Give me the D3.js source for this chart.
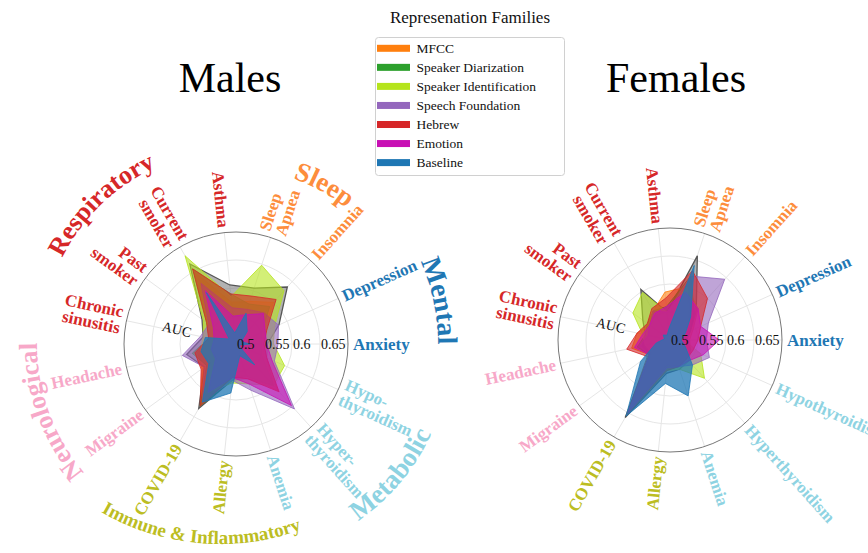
<!DOCTYPE html>
<html>
<head>
<meta charset="utf-8">
<script src="https://cdn.jsdelivr.net/npm/d3@7"></script>
<style>
  body { margin: 0; background: #fff; }
  svg { display: block; font-family: "Liberation Serif", "Times New Roman", serif; }
</style>
</head>
<body>
<svg id="chart" width="868" height="553"></svg>
<script>
// categories, counter-clockwise from east
const categories = ["Anxiety", "Depression", "Insomnia", "Sleep Apnea", "Asthma", "Current smoker",
    "Past smoker", "Chronic sinusitis", "Headache", "Migraine", "COVID-19", "Allergy", "Anemia",
    "Hyperthyroidism", "Hypothyroidism"];
const catGroup = ["Mental", "Mental", "Sleep", "Sleep", "Respiratory", "Respiratory", "Respiratory",
    "Respiratory", "Neurological", "Neurological", "Immune", "Immune", "Metabolic", "Metabolic", "Metabolic"];
const maleLabels = [["Anxiety"], ["Depression"], ["Insomnia"], ["Sleep", "Apnea"], ["Asthma"], ["Current", "smoker"],
    ["Past", "smoker"], ["Chronic", "sinusitis"], ["Headache"], ["Migraine"], ["COVID-19"], ["Allergy"], ["Anemia"],
    ["Hyper-", "thyroidism"], ["Hypo-", "thyroidism"]];
const femaleLabels = [["Anxiety"], ["Depression"], ["Insomnia"], ["Sleep", "Apnea"], ["Asthma"], ["Current", "smoker"],
    ["Past", "smoker"], ["Chronic", "sinusitis"], ["Headache"], ["Migraine"], ["COVID-19"], ["Allergy"], ["Anemia"],
    ["Hyperthyroidism"], ["Hypothyroidism"]];

const groupColors = {
    Mental: "#1f77b4", Sleep: "#fd8d3c", Respiratory: "#d62728",
    Neurological: "#f7a8c8", Immune: "#bcbd22", Metabolic: "#8ed3e2"
};

const families = ["MFCC", "Speaker Diarization", "Speaker Identification", "Speech Foundation", "Hebrew", "Emotion", "Baseline"];
const familyColors = ["#ff7f0e", "#2ca02c", "#b5e41c", "#9467bd", "#d62728", "#c80fb4", "#1f77b4"];

const radialTicks = [0.5, 0.55, 0.6, 0.65];

// AUC per category (same order as categories)
const maleOther = [0.556, 0.584, 0.637, 0.605, 0.606, 0.665, 0.575, 0.56, 0.59, 0.57, 0.633, 0.565, 0.565, 0.6, 0.56];
const maleMFCC = [0.548, 0.555, 0.6, 0.58, 0.575, 0.648, 0.56, 0.548, 0.57, 0.575, 0.625, 0.56, 0.56, 0.612, 0.555];
const maleDiar = [0.545, 0.55, 0.59, 0.575, 0.59, 0.655, 0.565, 0.55, 0.58, 0.565, 0.628, 0.565, 0.56, 0.6, 0.55];
const maleSpkId = [0.567, 0.575, 0.628, 0.648, 0.585, 0.682, 0.572, 0.56, 0.565, 0.555, 0.6, 0.57, 0.575, 0.6, 0.595];
const maleFound = [0.575, 0.583, 0.575, 0.565, 0.565, 0.625, 0.56, 0.565, 0.598, 0.57, 0.62, 0.565, 0.587, 0.656, 0.575];
const maleHebrew = [0.55, 0.56, 0.607, 0.59, 0.59, 0.655, 0.565, 0.55, 0.575, 0.577, 0.628, 0.56, 0.565, 0.615, 0.56];
const maleEmotion = [0.555, 0.557, 0.573, 0.555, 0.55, 0.61, 0.55, 0.54, 0.545, 0.545, 0.6, 0.56, 0.575, 0.648, 0.57];
const maleBase = [0.525, 0.51, 0.53, 0.558, 0.52, 0.606, 0.515, 0.556, 0.564, 0.56, 0.62, 0.588, 0.522, 0.55, 0.505];

const femaleOther = [0.53, 0.54, 0.57, 0.658, 0.55, 0.604, 0.56, 0.545, 0.55, 0.545, 0.66, 0.56, 0.555, 0.55, 0.54];
const femaleMFCC = [0.535, 0.545, 0.575, 0.6, 0.586, 0.56, 0.545, 0.56, 0.57, 0.545, 0.652, 0.55, 0.545, 0.54, 0.54];
const femaleDiar = [0.53, 0.54, 0.565, 0.62, 0.56, 0.56, 0.55, 0.545, 0.56, 0.545, 0.655, 0.555, 0.55, 0.545, 0.54];
const femaleSpkId = [0.525, 0.53, 0.55, 0.6, 0.55, 0.598, 0.582, 0.55, 0.545, 0.54, 0.65, 0.555, 0.555, 0.592, 0.56];
const femaleFound = [0.565, 0.575, 0.646, 0.62, 0.55, 0.56, 0.545, 0.54, 0.555, 0.545, 0.65, 0.545, 0.55, 0.56, 0.577];
const femaleHebrew = [0.55, 0.56, 0.6, 0.63, 0.575, 0.565, 0.55, 0.56, 0.579, 0.55, 0.655, 0.555, 0.55, 0.545, 0.545];
const femaleEmotion = [0.588, 0.56, 0.575, 0.59, 0.56, 0.555, 0.545, 0.55, 0.565, 0.545, 0.65, 0.55, 0.55, 0.55, 0.565];
const femaleBase = [0.52, 0.53, 0.555, 0.64, 0.52, 0.51, 0.515, 0.51, 0.525, 0.565, 0.657, 0.578, 0.605, 0.56, 0.53];

const maleSeries = [maleMFCC, maleDiar, maleSpkId, maleFound, maleHebrew, maleEmotion, maleBase];
const femaleSeries = [femaleMFCC, femaleDiar, femaleSpkId, femaleFound, femaleHebrew, femaleEmotion, femaleBase];

const R = 112;
const svg = d3.select("#chart");
const toRad = d => d * Math.PI / 180;

function drawRadar(cx, cy, series, other, labels) {
    const g = svg.append("g").attr("transform", `translate(${cx},${cy})`);
    const r = d3.scaleLinear().domain([0.5, 0.7]).range([0, R]);
    const ang = d3.scaleLinear().domain([0, categories.length]).range([0, 360]);

    // grid
    g.selectAll(".grid").data(radialTicks.slice(1)).join("circle")
        .attr("r", d => r(d)).attr("fill", "none").attr("stroke", "#e6e6e6").attr("stroke-width", 1);
    g.selectAll(".spoke").data(categories).join("line")
        .attr("x1", 0).attr("y1", 0)
        .attr("x2", (d, i) => R * Math.cos(toRad(ang(i))))
        .attr("y2", (d, i) => -R * Math.sin(toRad(ang(i))))
        .attr("stroke", "#e6e6e6").attr("stroke-width", 1);
    g.append("circle").attr("r", R).attr("fill", "none").attr("stroke", "#777").attr("stroke-width", 1);

    const line = d3.lineRadial()
        .angle((d, i) => toRad(90 - ang(i)))
        .radius(d => r(d))
        .curve(d3.curveLinearClosed);

    g.append("path").attr("d", line(other))
        .attr("fill", "#7f7f7f").attr("fill-opacity", 0.6)
        .attr("stroke", "#555").attr("stroke-width", 1.3);

    series.forEach((vals, k) => {
        g.append("path").attr("d", line(vals))
            .attr("fill", familyColors[k]).attr("fill-opacity", k === 6 ? 0.75 : 0.6)
            .attr("stroke", familyColors[k]).attr("stroke-width", 1).attr("stroke-opacity", 0.8);
    });

    // radial ticks
    g.selectAll(".tick").data(radialTicks).join("text")
        .attr("x", d => r(d) + 1).attr("y", 0).attr("dy", "0.35em")
        .attr("font-size", 14).attr("fill", "#111")
        .text(d => d);
    g.append("text")
        .attr("transform", `translate(${-61 * Math.cos(toRad(14))},${-61 * Math.sin(toRad(14))}) rotate(14)`)
        .attr("text-anchor", "middle").attr("dy", "0.35em")
        .attr("font-size", 14).attr("fill", "#111").text("AUC");

    // category labels
    labels.forEach((lines, i) => {
        const a = ang(i);
        const right = Math.cos(toRad(a)) > 0.01;
        const rot = right ? -a : 180 - a;
        const rl = R + 5;
        const t = g.append("text")
            .attr("transform", `translate(${rl * Math.cos(toRad(a))},${-rl * Math.sin(toRad(a))}) rotate(${rot})`)
            .attr("text-anchor", right ? "start" : "end")
            .attr("font-size", 17).attr("font-weight", "bold")
            .attr("fill", groupColors[catGroup[i]]);
        const lh = 16.5;
        lines.forEach((s, j) => {
            t.append("tspan").attr("x", 0)
                .attr("y", (j - (lines.length - 1) / 2) * lh)
                .attr("dy", "0.35em").text(s);
        });
    });
    return g;
}

const gm = drawRadar(236, 344, maleSeries, maleOther, maleLabels);
drawRadar(670, 340, femaleSeries, femaleOther, femaleLabels);

// group names along arcs (males only); ox/oy shift the arc centre from the chart centre
const groupArcs = [
    {name: "Respiratory", color: groupColors.Respiratory, mid: 134, r: 194, size: 26, cw: true, ox: 0, oy: 0},
    {name: "Sleep", color: groupColors.Sleep, mid: 61, r: 175, size: 27, cw: true, ox: 0, oy: 0},
    {name: "Mental", color: groupColors.Mental, mid: 12, r: 202, size: 28, cw: true, ox: 0, oy: 0},
    {name: "Metabolic", color: groupColors.Metabolic, mid: 320, r: 215, size: 27, cw: false, ox: 0, oy: 0},
    {name: "Immune & Inflammatory", color: groupColors.Immune, mid: 265, r: 237, size: 19, cw: false, ox: -16, oy: -37},
    {name: "Neurological", color: groupColors.Neurological, mid: 200, r: 199, size: 26, cw: true, ox: 0, oy: 0}
];
groupArcs.forEach((d, i) => {
    const span = 80;
    const p = a => [d.ox + d.r * Math.cos(toRad(a)), d.oy - d.r * Math.sin(toRad(a))];
    const a0 = d.cw ? d.mid + span : d.mid - span;
    const a1 = d.cw ? d.mid - span : d.mid + span;
    const s = p(a0), e = p(a1);
    gm.append("path").attr("id", "garc" + i)
        .attr("d", `M${s[0]},${s[1]} A${d.r},${d.r} 0 0 ${d.cw ? 1 : 0} ${e[0]},${e[1]}`)
        .attr("fill", "none");
    gm.append("text").attr("font-size", d.size).attr("font-weight", "bold").attr("fill", d.color)
        .append("textPath").attr("href", "#garc" + i)
        .attr("startOffset", "50%").attr("text-anchor", "middle")
        .text(d.name);
});

// titles
svg.append("text").attr("x", 230).attr("y", 92).attr("text-anchor", "middle")
    .attr("font-size", 42).attr("fill", "#000").text("Males");
svg.append("text").attr("x", 676).attr("y", 92).attr("text-anchor", "middle")
    .attr("font-size", 42).attr("fill", "#000").text("Females");

// legend
svg.append("text").attr("x", 470).attr("y", 23).attr("text-anchor", "middle")
    .attr("font-size", 17).attr("fill", "#111").text("Represenation Families");
const lg = svg.append("g");
lg.append("rect").attr("x", 375.5).attr("y", 37.5).attr("width", 189).attr("height", 138)
    .attr("rx", 3).attr("fill", "#fff").attr("stroke", "#d0d0d0");
const rowY = d3.scaleLinear().domain([0, 1]).range([48.3, 67.35]);
lg.selectAll(".sw").data(families).join("rect")
    .attr("x", 377).attr("y", (d, i) => rowY(i) - 3.5).attr("width", 33).attr("height", 7)
    .attr("fill", (d, i) => familyColors[i]);
lg.selectAll(".lt").data(families).join("text")
    .attr("x", 416.5).attr("y", (d, i) => rowY(i)).attr("dy", "0.35em")
    .attr("font-size", 13.5).attr("fill", "#111").text(d => d);
</script>
</body>
</html>
